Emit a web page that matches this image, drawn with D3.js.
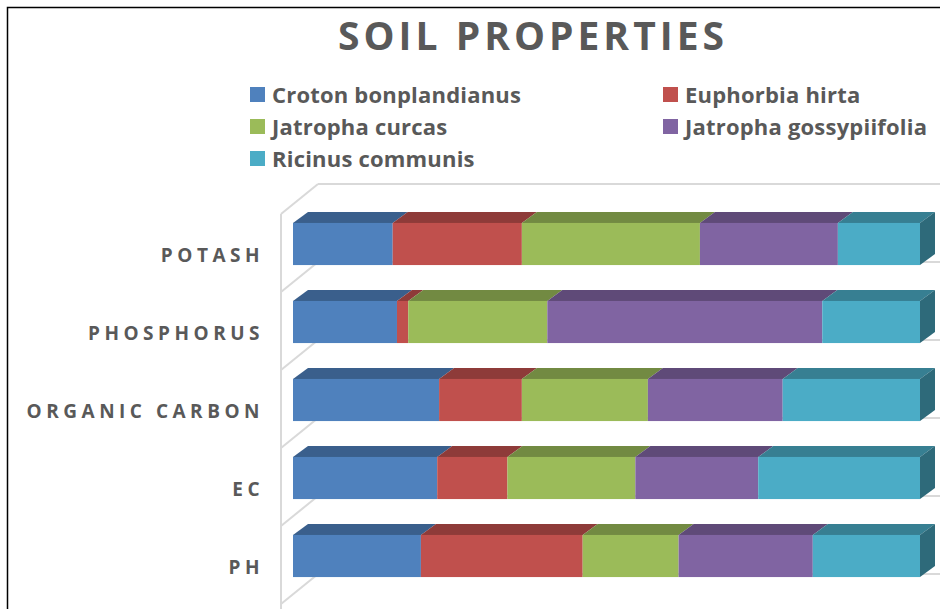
<!DOCTYPE html>
<html>
<head>
<meta charset="utf-8">
<script src="https://cdn.jsdelivr.net/npm/d3@7"></script>
<style>
  body { margin: 0; background: #fff; }
  text { font-family: "Open Sans", Lato, sans-serif; font-weight: bold; fill: #595959; }
</style>
</head>
<body>
<div id="holder"></div>
<script>
// soil properties, share of each species (100% stacked)
const categories = ["POTASH", "PHOSPHORUS", "ORGANIC CARBON", "EC", "PH"];
const species = ["Croton bonplandianus", "Euphorbia hirta", "Jatropha curcas", "Jatropha gossypiifolia", "Ricinus communis"];
const croton = [15.9, 16.6, 23.3, 23.0, 20.4];
const euphorbia = [20.6, 1.8, 13.2, 11.2, 25.8];
const jatrophaCurcas = [28.4, 22.2, 20.1, 20.4, 15.3];
const jatrophaGossypiifolia = [22.0, 43.9, 21.5, 19.6, 21.4];
const ricinus = [13.1, 15.6, 21.9, 25.8, 17.1];

const seriesValues = [croton, euphorbia, jatrophaCurcas, jatrophaGossypiifolia, ricinus];
const colors = ["#4F81BD", "#C0504D", "#9BBB59", "#8064A2", "#4BACC6"];

const w = 940;
const h = 609;

const table = categories.map((c, i) => {
    const row = {category: c};
    species.forEach((s, j) => row[s] = seriesValues[j][i]);
    return row;
});

const stacked = d3.stack()
    .keys(species)
    .offset(d3.stackOffsetExpand)(table);

const svg = d3.select("#holder")
    .append("svg")
    .attr("width", w)
    .attr("height", h);

// outer frame (left and top only are visible)
svg.append("path")
    .attr("d", "M7.5,609 V7.5 H940")
    .attr("fill", "none")
    .attr("stroke", "#000")
    .attr("stroke-width", 1.5);

// front plane scales
const x = d3.scaleLinear().domain([0, 1]).range([281, 908]);
const y = d3.scaleBand()
    .domain(categories)
    .range([214, 604])
    .paddingInner(0.46)
    .paddingOuter(0.23);

// 3d offsets
const wall = {dx: 37, dy: 30};
const front = {dx: 12, dy: 9};
const depth = {dx: 15, dy: 11};

const step = y.step();
const bandTop = c => y(c) - y.paddingOuter() * step;
const boundaries = categories.map(bandTop).concat([bandTop(categories[categories.length - 1]) + step]);

// back wall gridlines
const grid = svg.append("g")
    .attr("stroke", "#d9d9d9")
    .attr("stroke-width", 2)
    .attr("fill", "none");

grid.selectAll("line.back")
    .data(boundaries)
    .enter()
    .append("line")
    .attr("x1", x(0) + wall.dx)
    .attr("x2", w)
    .attr("y1", d => d - wall.dy)
    .attr("y2", d => d - wall.dy);

grid.selectAll("line.side")
    .data(boundaries)
    .enter()
    .append("line")
    .attr("x1", x(0))
    .attr("x2", x(0) + wall.dx)
    .attr("y1", d => d)
    .attr("y2", d => d - wall.dy);

grid.append("line")
    .attr("x1", x(0))
    .attr("x2", x(0))
    .attr("y1", boundaries[0])
    .attr("y2", h);

// bars
const darker = (c, k) => d3.rgb(c).darker(k).formatHex();

const layers = svg.append("g")
    .selectAll("g")
    .data(stacked)
    .enter()
    .append("g");

layers.each(function (layer, li) {
    const g = d3.select(this);
    const col = colors[li];
    const segs = layer.map(d => ({
        x0: x(d[0]) + front.dx,
        x1: x(d[1]) + front.dx,
        y0: y(d.data.category) - front.dy,
        hh: y.bandwidth(),
        last: li === stacked.length - 1
    }));

    g.selectAll("path.top")
        .data(segs)
        .enter()
        .append("path")
        .attr("fill", darker(col, 0.85))
        .attr("d", s => `M${s.x0},${s.y0} L${s.x0 + depth.dx},${s.y0 - depth.dy} L${s.x1 + depth.dx},${s.y0 - depth.dy} L${s.x1},${s.y0} Z`);

    g.selectAll("rect.front")
        .data(segs)
        .enter()
        .append("rect")
        .attr("fill", col)
        .attr("x", s => s.x0)
        .attr("y", s => s.y0)
        .attr("width", s => Math.max(0, s.x1 - s.x0))
        .attr("height", s => s.hh);

    g.selectAll("path.side")
        .data(segs.filter(s => s.last))
        .enter()
        .append("path")
        .attr("fill", darker(col, 1.35))
        .attr("d", s => `M${s.x1},${s.y0} L${s.x1 + depth.dx},${s.y0 - depth.dy} L${s.x1 + depth.dx},${s.y0 + s.hh - depth.dy} L${s.x1},${s.y0 + s.hh} Z`);
});

// category labels
svg.append("g")
    .selectAll("text")
    .data(categories)
    .enter()
    .append("text")
    .attr("x", 264)
    .attr("y", d => y(d) + y.bandwidth() / 2 + 8.5)
    .attr("text-anchor", "end")
    .attr("font-size", 19)
    .style("letter-spacing", "4.5px")
    .text(d => d);

// title
svg.append("text")
    .attr("x", 338)
    .attr("y", 50)
    .attr("font-size", 39)
    .attr("textLength", 386)
    .attr("lengthAdjust", "spacing")
    .text("SOIL PROPERTIES");

// legend
const legendCols = [250, 663];
const legend = svg.append("g")
    .selectAll("g")
    .data(species)
    .enter()
    .append("g")
    .attr("transform", (d, i) => `translate(${legendCols[i % 2]}, ${87 + Math.floor(i / 2) * 32})`);

legend.append("rect")
    .attr("width", 15)
    .attr("height", 15)
    .attr("fill", (d, i) => colors[i]);

legend.append("text")
    .attr("x", 22)
    .attr("y", 15.5)
    .attr("font-size", 22)
    .style("letter-spacing", "0.2px")
    .text(d => d);
</script>
</body>
</html>
